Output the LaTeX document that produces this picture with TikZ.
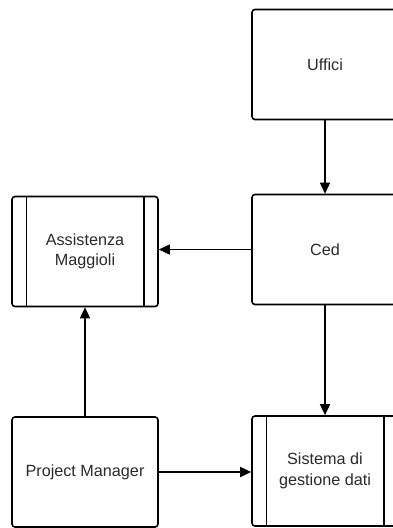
\documentclass[tikz,border=0pt]{standalone}
\usepackage{fontspec}
\setmainfont{Liberation Sans}
\usetikzlibrary{arrows.meta}
\definecolor{txt}{HTML}{2A2A2A}
\begin{document}
\begin{tikzpicture}[x=1pt,y=-1pt,
  box/.style={draw, line width=1.6pt, rounded corners=3pt, minimum width=146pt,
    minimum height=110pt, align=center, text=txt, inner sep=0pt,
    font=\fontsize{16.2}{20.5}\selectfont},
  conn/.style={line width=1.6pt, -{Triangle[length=11pt,width=10pt]}},
  bar/.style={line width=1.4pt}]
\useasboundingbox (0,0) rectangle (393,528);
\begin{scope}
\clip (0,0) rectangle (393,528);
\node[box] (uff) at (325,64.5) {Uffici};
\node[box] (ced) at (325,249.5) {Ced};
\node[box] (sis) at (325,471) {Sistema di\\gestione dati};
\node[box] (ass) at (85,251.5) {Assistenza\\Maggioli};
\node[box] (pm)  at (85,472) {Project Manager};
\foreach \n in {sis,ass}{
  \draw[bar] ([xshift=15pt]\n.north west) -- ([xshift=15pt]\n.south west);
  \draw[bar] ([xshift=-15pt]\n.north east) -- ([xshift=-15pt]\n.south east);
}
\draw[conn] (uff.south) -- (ced.north);
\draw[conn] (ced.west) -- (ced.west -| ass.east);
\draw[conn] (ced.south) -- (sis.north);
\draw[conn] (pm.north) -- (ass.south);
\draw[conn] (pm.east) -- (pm.east -| sis.west);
\end{scope}
\end{tikzpicture}
\end{document}
